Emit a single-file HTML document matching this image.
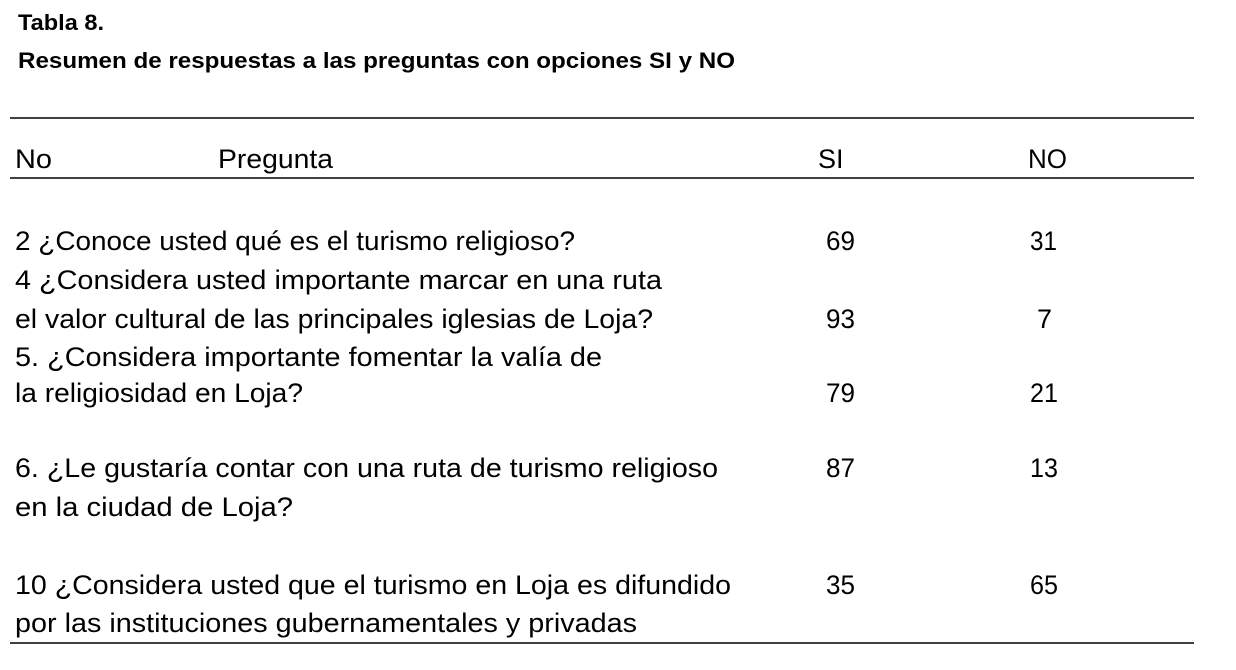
<!DOCTYPE html>
<html><head><meta charset="utf-8"><style>
html,body{margin:0;padding:0;background:#fff;}
svg{display:block;}
text{font-family:"Liberation Sans",sans-serif;fill:#000;}
.b{font-weight:bold;font-size:22px;}
.t{font-size:27px;}
</style></head><body>
<svg width="1236" height="670">
<text class="b" x="18" y="30" textLength="86" lengthAdjust="spacingAndGlyphs">Tabla 8.</text>
<text class="b" x="18" y="68" textLength="717" lengthAdjust="spacingAndGlyphs">Resumen de respuestas a las preguntas con opciones SI y NO</text>
<line x1="10" y1="118" x2="1194" y2="118" stroke="#000" stroke-width="1.5"/>
<g>
<text class="t" x="15" y="168" textLength="37" lengthAdjust="spacingAndGlyphs">No</text>
<text class="t" x="218" y="168" textLength="115" lengthAdjust="spacingAndGlyphs">Pregunta</text>
<text class="t" x="818" y="168">SI</text>
<text class="t" x="1028" y="168" textLength="39" lengthAdjust="spacingAndGlyphs">NO</text>
</g>
<line x1="10" y1="178" x2="1194" y2="178" stroke="#000" stroke-width="1.5"/>
<g>
<text class="t" x="15" y="250" textLength="560" lengthAdjust="spacingAndGlyphs">2 ¿Conoce usted qué es el turismo religioso?</text>
<text class="t" x="15" y="289" textLength="647" lengthAdjust="spacingAndGlyphs">4 ¿Considera usted importante marcar en una ruta</text>
<text class="t" x="15" y="328" textLength="638" lengthAdjust="spacingAndGlyphs">el valor cultural de las principales iglesias de Loja?</text>
<text class="t" x="15" y="366" textLength="587" lengthAdjust="spacingAndGlyphs">5. ¿Considera importante fomentar la valía de</text>
<text class="t" x="15" y="402" textLength="288" lengthAdjust="spacingAndGlyphs">la religiosidad en Loja?</text>
<text class="t" x="15" y="477" textLength="703" lengthAdjust="spacingAndGlyphs">6. ¿Le gustaría contar con una ruta de turismo religioso</text>
<text class="t" x="15" y="516" textLength="278" lengthAdjust="spacingAndGlyphs">en la ciudad de Loja?</text>
<text class="t" x="15" y="594" textLength="716" lengthAdjust="spacingAndGlyphs">10 ¿Considera usted que el turismo en Loja es difundido</text>
<text class="t" x="15" y="632" textLength="622" lengthAdjust="spacingAndGlyphs">por las instituciones gubernamentales y privadas</text>
</g>
<g>
<text class="t" x="826" y="250" textLength="29" lengthAdjust="spacingAndGlyphs">69</text>
<text class="t" x="826" y="328" textLength="29" lengthAdjust="spacingAndGlyphs">93</text>
<text class="t" x="826" y="402" textLength="29" lengthAdjust="spacingAndGlyphs">79</text>
<text class="t" x="826" y="477" textLength="29" lengthAdjust="spacingAndGlyphs">87</text>
<text class="t" x="826" y="594" textLength="29" lengthAdjust="spacingAndGlyphs">35</text>
</g>
<g>
<text class="t" x="1030" y="250" textLength="27" lengthAdjust="spacingAndGlyphs">31</text>
<text class="t" x="1037" y="328">7</text>
<text class="t" x="1030" y="402" textLength="28" lengthAdjust="spacingAndGlyphs">21</text>
<text class="t" x="1030" y="477" textLength="28" lengthAdjust="spacingAndGlyphs">13</text>
<text class="t" x="1030" y="594" textLength="28" lengthAdjust="spacingAndGlyphs">65</text>
</g>
<line x1="10" y1="643" x2="1194" y2="643" stroke="#000" stroke-width="1.5"/>
</svg>
</body></html>
